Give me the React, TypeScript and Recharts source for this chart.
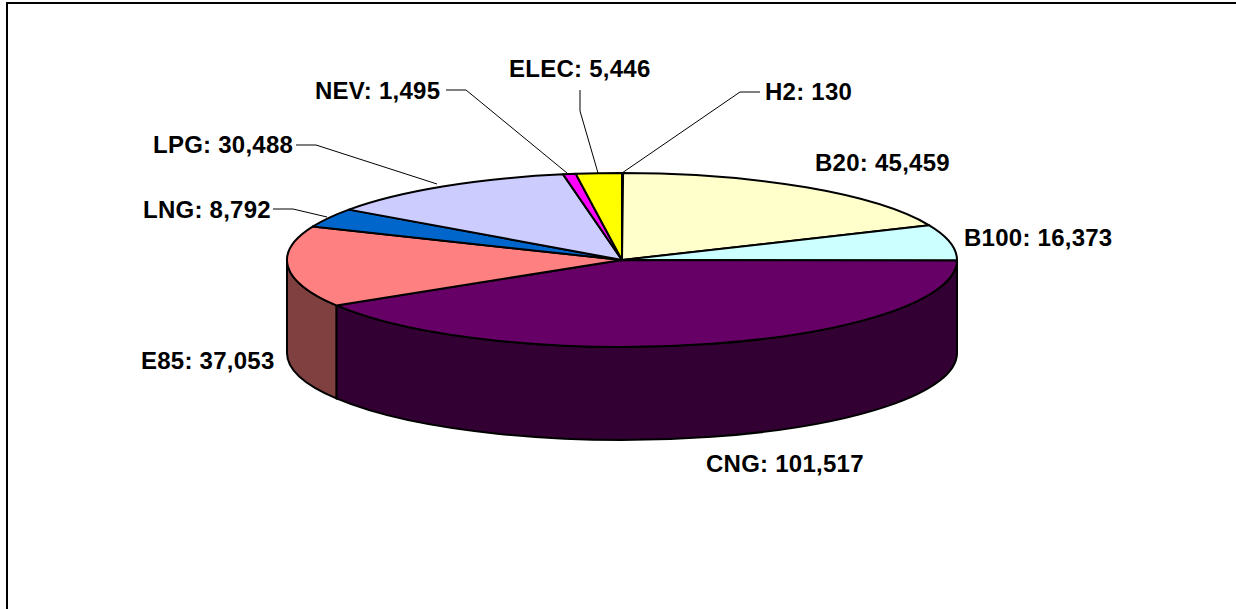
import { PieChart, Pie, Cell } from "recharts";

const categories = ["H2", "B20", "B100", "CNG", "E85", "LNG", "LPG", "NEV", "ELEC"];
const vehicles = [130, 45459, 16373, 101517, 37053, 8792, 30488, 1495, 5446];
const topColors = ["#FFFF99", "#FFFFCC", "#CCFFFF", "#660066", "#FF8080", "#0066CC", "#CCCCFF", "#FF00FF", "#FFFF00"];
const sideColors = ["#808040", "#808066", "#668080", "#330033", "#804040", "#003366", "#666680", "#800080", "#808000"];

const data = categories.map((name, i) => ({ name, value: vehicles[i] }));

const CX = 622;
const CY = 260;
const RX = 335;
const RY = 87;
const DEPTH = 93;

// label text anchor point plus the leader line that runs to the pie
const labelLayout: Record<string, { x: number; y: number; line?: number[][] }> = {
  H2: { x: 765, y: 100, line: [[760, 92], [740, 92], [622, 173]] },
  B20: { x: 815, y: 171 },
  B100: { x: 964, y: 246 },
  CNG: { x: 706, y: 472 },
  E85: { x: 141, y: 369 },
  LNG: { x: 143, y: 218, line: [[273, 209], [293, 209], [327, 217]] },
  LPG: { x: 153, y: 153, line: [[296, 145], [316, 145], [437, 184]] },
  NEV: { x: 315, y: 99, line: [[446, 90], [466, 90], [567, 173]] },
  ELEC: { x: 509, y: 77, line: [[580, 90], [580, 111], [598, 173]] },
};

const pt = (deg: number) => {
  const t = (deg * Math.PI) / 180;
  return [CX + RX * Math.cos(t), CY - RY * Math.sin(t)];
};

// squashed sector with its wall, the angles come from the Pie layout
function Slice3D(props: any) {
  const { startAngle, endAngle, index } = props;
  const [sx, sy] = pt(startAngle);
  const [ex, ey] = pt(endAngle);
  const large = Math.abs(endAngle - startAngle) > 180 ? 1 : 0;
  // wall is only seen on the front half of the ellipse (angles -180..0)
  const hasWall = startAngle <= 0 && startAngle > -180;
  let wall = null;
  if (hasWall) {
    const [ax, ay] = pt(startAngle);
    const [bx, by] = pt(Math.max(endAngle, -180));
    wall = (
      <path
        d={`M${ax},${ay} A${RX},${RY} 0 0 1 ${bx},${by} L${bx},${by + DEPTH} A${RX},${RY} 0 0 0 ${ax},${ay + DEPTH} Z`}
        fill={sideColors[index]}
        stroke="#000"
        strokeWidth={2}
      />
    );
  }
  return (
    <g>
      {wall}
      <path
        d={`M${CX},${CY} L${sx},${sy} A${RX},${RY} 0 ${large} 1 ${ex},${ey} Z`}
        fill={topColors[index]}
        stroke="#000"
        strokeWidth={2}
        strokeLinejoin="round"
      />
    </g>
  );
}

function renderLabel(props: any) {
  const { name, value } = props;
  const l = labelLayout[name];
  return (
    <g key={name}>
      {l.line && (
        <polyline points={l.line.map((p) => p.join(",")).join(" ")} fill="none" stroke="#000" strokeWidth={1} />
      )}
      <text
        x={l.x}
        y={l.y}
        textAnchor="start"
        fontFamily="'Liberation Sans', Arial, sans-serif"
        fontWeight="bold"
        fontSize={24}
        letterSpacing={0.25}
        fill="#000"
      >
        {`${name}: ${value.toLocaleString("en-US")}`}
      </text>
    </g>
  );
}

export default function App() {
  return (
    <div style={{ position: "absolute", left: 0, top: 0, width: 1236, height: 609, background: "#fff" }}>
      <div style={{ position: "absolute", left: 6, top: 2, right: 0, bottom: 0, borderTop: "2px solid #000", borderLeft: "2px solid #000" }} />
      <div style={{ position: "absolute", left: 0, top: 0 }}>
        <PieChart width={1236} height={609} margin={{ top: 0, right: 0, bottom: 0, left: 0 }}>
          <Pie
            data={data}
            dataKey="value"
            nameKey="name"
            cx={CX}
            cy={CY}
            outerRadius={RX}
            startAngle={90}
            endAngle={-270}
            paddingAngle={0}
            isAnimationActive={false}
            shape={Slice3D}
            label={renderLabel}
            labelLine={false}
          >
            {data.map((d, i) => (
              <Cell key={d.name} fill={topColors[i]} />
            ))}
          </Pie>
        </PieChart>
      </div>
    </div>
  );
}
